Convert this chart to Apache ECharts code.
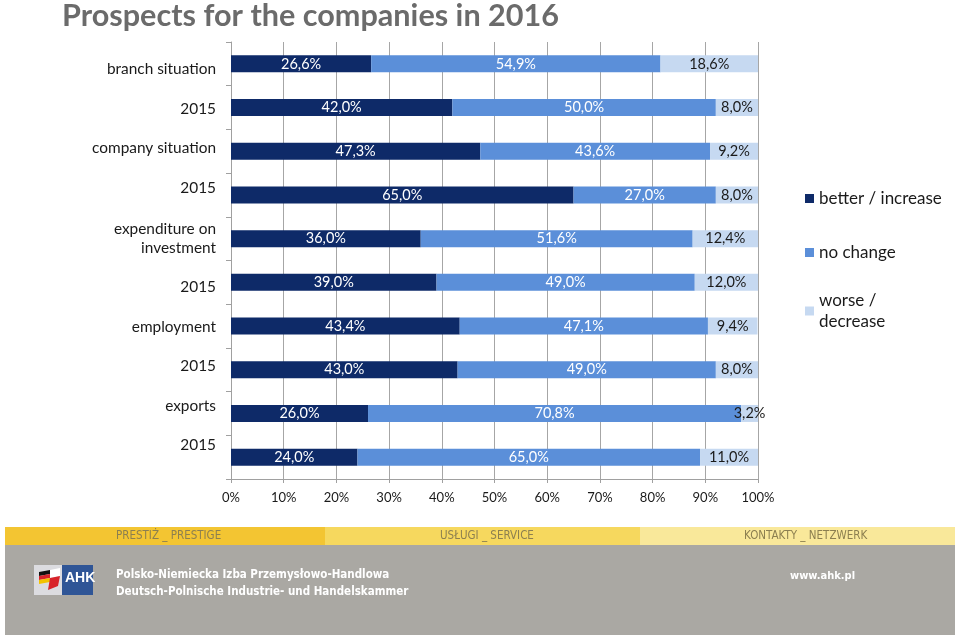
<!DOCTYPE html>
<html>
<head>
<meta charset="utf-8">
<script src="https://cdn.jsdelivr.net/npm/echarts@6/dist/echarts.min.js"></script>
<style>
html,body{margin:0;padding:0;background:#fff;}
#chart{width:959px;height:637px;}
</style>
</head>
<body>
<div id="chart"></div>
<script>
var categories = ['branch situation','2015','company situation','2015','expenditure on\ninvestment','2015','employment','2015','exports','2015'];
var seriesNames = ['better / increase','no change','worse / decrease'];
var betterIncrease = [26.6, 42.0, 47.3, 65.0, 36.0, 39.0, 43.4, 43.0, 26.0, 24.0];
var noChange       = [54.9, 50.0, 43.6, 27.0, 51.6, 49.0, 47.1, 49.0, 70.8, 65.0];
var worseDecrease  = [18.6,  8.0,  9.2,  8.0, 12.4, 12.0,  9.4,  8.0,  3.2, 11.0];
var xTicks = [0,10,20,30,40,50,60,70,80,90,100];

// style: vertical nudge (px) of each category label, as in the original layout
var labelNudge = [5, 1, -3, -7, 2, 5, 1, -4, -7, -12];

var FONT = 'Lato';
var colors = ['#0e2a68','#5b8fd9','#c6d9f1'];
var labelColors = ['#ffffff','#ffffff','#1a1a1a'];
var values = [betterIncrease, noChange, worseDecrease];

function fmt(v){ return v.toFixed(1).replace('.', ',') + '%'; }

var series = seriesNames.map(function(name, i){
  return {
    name: name,
    type: 'bar',
    stack: 'total',
    barWidth: 17,
    data: values[i],
    itemStyle: {color: colors[i]},
    label: {
      show: true,
      position: 'inside',
      fontFamily: FONT,
      fontSize: 14.5,
      color: labelColors[i],
      formatter: function(p){ return fmt(p.value); }
    },
    emphasis: {disabled: true}
  };
});

var rich = {};
labelNudge.forEach(function(d, i){
  rich['r' + i] = {
    fontFamily: FONT, fontSize: 15.4, color: '#1a1a1a', lineHeight: 19, align: 'right',
    padding: d >= 0 ? [2*d,0,0,0] : [0,0,-2*d,0]
  };
});
rich.m = {fontFamily: FONT, fontSize: 15.4, color: '#1a1a1a', lineHeight: 19, align: 'right'};

function yLabel(value, index){
  var lines = value.split('\n');
  if (lines.length > 1) {
    return lines.map(function(l){ return '{m|' + l + '}'; }).join('\n');
  }
  return '{r' + index + '|' + value + '}';
}

var stripFont = '11.5px "DejaVu Sans Condensed", "Liberation Sans Narrow", sans-serif';
var footFont = 'bold 11.5px "DejaVu Sans Condensed", "Liberation Sans", sans-serif';
var legendText = {fontFamily: FONT, fontSize: 17, color: '#1a1a1a', lineHeight: 21};

var chart = echarts.init(document.getElementById('chart'), null, {renderer:'canvas'});
chart.setOption({
  animation: false,
  backgroundColor: '#ffffff',
  title: {
    text: 'Prospects for the companies in 2016',
    left: 57, top: -4,
    textStyle: {fontFamily: FONT, fontWeight: 'bold', fontSize: 30.6, color: '#6b6b6b'}
  },
  legend: [{
    orient: 'vertical',
    left: 800, top: 183,
    itemWidth: 9, itemHeight: 9,
    itemGap: 33,
    icon: 'rect',
    data: seriesNames.slice(0, 2),
    textStyle: legendText
  }, {
    orient: 'vertical',
    left: 800, top: 285,
    itemWidth: 9, itemHeight: 9,
    icon: 'rect',
    data: seriesNames.slice(2),
    formatter: function(n){ return n.replace(' / ', ' /\n'); },
    textStyle: legendText
  }],
  grid: {left: 231, right: 201, top: 42, bottom: 158, containLabel: false},
  xAxis: {
    type: 'value',
    min: 0, max: 100, interval: 10,
    axisLine: {show: true, lineStyle: {color: '#a0a0a0'}},
    axisTick: {show: true, length: 4, lineStyle: {color: '#a0a0a0'}},
    splitLine: {show: true, lineStyle: {color: '#a6a6a6'}},
    axisLabel: {fontFamily: FONT, fontSize: 13, color: '#1a1a1a', margin: 12,
      formatter: function(v){ return xTicks.indexOf(v) >= 0 ? v + '%' : ''; }}
  },
  yAxis: {
    type: 'category',
    inverse: true,
    data: categories,
    axisLine: {show: true, lineStyle: {color: '#a0a0a0'}},
    axisTick: {show: true, length: 5, lineStyle: {color: '#a0a0a0'}},
    axisLabel: {fontFamily: FONT, fontSize: 15.4, color: '#1a1a1a', margin: 15, align: 'right', lineHeight: 19,
      formatter: yLabel, rich: rich}
  },
  series: series,
  graphic: [
    {type:'rect', shape:{x:5,y:527,width:320,height:18}, style:{fill:'#f3c532'}, silent:true},
    {type:'rect', shape:{x:325,y:527,width:315,height:18}, style:{fill:'#f6d85e'}, silent:true},
    {type:'rect', shape:{x:640,y:527,width:315,height:18}, style:{fill:'#f9e89a'}, silent:true},
    {type:'rect', shape:{x:5,y:545,width:950,height:90}, style:{fill:'#aaa8a3'}, silent:true},
    {type:'text', left:116, top:530, style:{text:'PRESTIŻ _ PRESTIGE', font:stripFont, fill:'#8c7f50'}},
    {type:'text', left:440, top:530, style:{text:'USŁUGI _ SERVICE', font:stripFont, fill:'#8c7f50'}},
    {type:'text', left:744, top:530, style:{text:'KONTAKTY _ NETZWERK', font:stripFont, fill:'#8c7f50'}},
    {type:'rect', shape:{x:34,y:565,width:30,height:30}, style:{fill:'#dcdce0'}, silent:true},
    {type:'rect', shape:{x:62,y:565,width:31,height:30}, style:{fill:'#2f5596'}, silent:true},
    {type:'polygon', shape:{points:[[39,572],[50,570],[50,574],[39,576]]}, style:{fill:'#111111'}, silent:true},
    {type:'polygon', shape:{points:[[39,576],[50,574],[50,578],[39,580]]}, style:{fill:'#d8232a'}, silent:true},
    {type:'polygon', shape:{points:[[39,580],[50,578],[50,582],[39,584]]}, style:{fill:'#f2c200'}, silent:true},
    {type:'polygon', shape:{points:[[50,570],[60,568],[60,576],[50,578]]}, style:{fill:'#ffffff'}, silent:true},
    {type:'polygon', shape:{points:[[50,578],[60,576],[58,586],[48,590]]}, style:{fill:'#d8232a'}, silent:true},
    {type:'text', left:65, top:571, style:{text:'AHK', font:'bold 14px "Liberation Sans", Arial, sans-serif', fill:'#ffffff'}},
    {type:'text', left:116, top:569, style:{text:'Polsko-Niemiecka Izba Przemysłowo-Handlowa', font:footFont, fill:'#ffffff'}},
    {type:'text', left:116, top:586, style:{text:'Deutsch-Polnische Industrie- und Handelskammer', font:footFont, fill:'#ffffff'}},
    {type:'text', left:790, top:571, style:{text:'www.ahk.pl', font:'bold 11px "DejaVu Sans Condensed", "Liberation Sans", sans-serif', fill:'#ffffff'}}
  ]
});
</script>
</body>
</html>
